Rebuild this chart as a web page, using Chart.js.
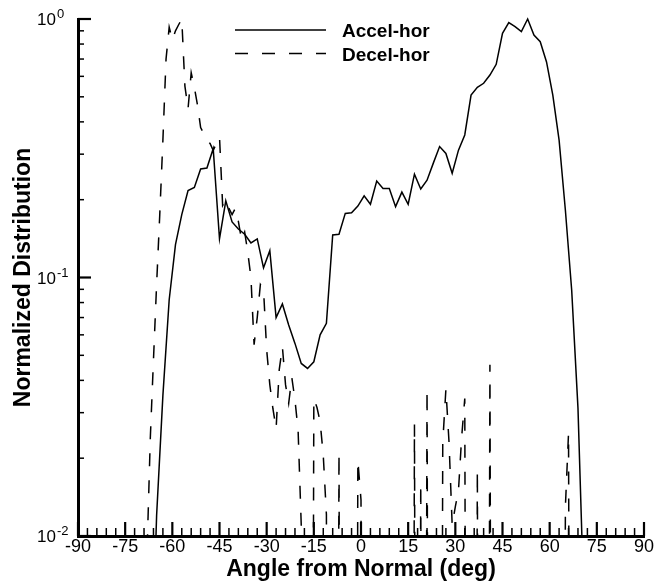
<!DOCTYPE html>
<html>
<head>
<meta charset="utf-8">
<title>Normalized angular distribution</title>
<script src="https://cdn.jsdelivr.net/npm/chart.js"></script>
<style>
  html, body { margin: 0; padding: 0; background: #fff; }
  canvas { display: block; }
</style>
</head>
<body>
<canvas id="angleChart" width="658" height="587"></canvas>
<script>
// series names, shown in the key
const seriesNames = ['Accel-hor', 'Decel-hor'];

// Accel-hor: 2 deg bins, first bin centre at -67 deg
const accelStart = -67;
const accelStep = 2;
const accelValues = [
  0.002, 0.012, 0.035, 0.082, 0.134, 0.175, 0.217, 0.223, 0.263, 0.265,
  0.315, 0.141, 0.198, 0.164, 0.154, 0.147, 0.136, 0.141, 0.109, 0.127,
  0.070, 0.079, 0.0655, 0.0556, 0.0465, 0.0445, 0.0472, 0.060, 0.0665, 0.146,
  0.147, 0.177, 0.178, 0.189, 0.207, 0.192, 0.236, 0.221, 0.221, 0.188,
  0.214, 0.192, 0.251, 0.220, 0.238, 0.277, 0.321, 0.302, 0.253, 0.311,
  0.356, 0.508, 0.544, 0.564, 0.607, 0.668, 0.880, 0.968, 0.934, 0.893,
  1.0, 0.867, 0.817, 0.682, 0.508, 0.340, 0.182, 0.0895, 0.0313, 0.005
];

// Decel-hor: 1 deg bins from -70 deg, 0 = empty bin
const decelStart = -70;
const decelStep = 1;
const decelValues = [
  0, 0, 0.009, 0.024, 0.048, 0.094, 0.175, 0.34, 0.70, 0.93,
  0.83, 0.90, 0.95, 1.0, 0.55, 0.45, 0.62, 0.545, 0.465, 0.38,
  0.36, 0.34, 0.33, 0.31, 0.33, 0.35, 0.19, 0.20, 0.185, 0.175,
  0.185, 0.165, 0.14, 0.15, 0.125, 0.10, 0.055, 0.07, 0.094, 0.09,
  0.0525, 0.0385, 0.031, 0.026, 0.044, 0.054, 0.0385, 0.0326, 0.041, 0.0336,
  0.0256, 0.011, 0, 0, 0, 0.034, 0.0314, 0.0277, 0.0205, 0.0121,
  0, 0, 0, 0.021, 0, 0, 0, 0, 0, 0.0196,
  0.0138, 0, 0, 0, 0, 0, 0, 0, 0, 0,
  0, 0, 0, 0, 0, 0, 0, 0.027, 0, 0.016,
  0, 0.037, 0, 0, 0, 0, 0.023, 0.037, 0.023, 0.011,
  0.013, 0.015, 0.024, 0.034, 0, 0, 0, 0.018, 0, 0,
  0, 0.046, 0, 0, 0, 0, 0, 0, 0, 0,
  0, 0, 0, 0, 0, 0, 0, 0, 0, 0,
  0, 0, 0, 0, 0, 0.013, 0.025, 0, 0, 0,
  0
];

// axis ticks
const xRange = [-90, 90];
const xTickStep = 15;
const xMinorStep = 3;
const yDecades = [0.01, 0.1, 1];
const yExponents = ['-2', '-1', '0'];

const FONT = '"Liberation Sans", Arial, Helvetica, sans-serif';

// empty bins have no log value; send them far below the axis so the trace drops off the bottom
const EMPTY_BIN = 1e-6;

function toPoints(start, step, values) {
  return values.map((v, i) => ({ x: start + i * step, y: v > 0 ? v : EMPTY_BIN }));
}

// inward tick marks on both axes
const axisTicks = {
  id: 'axisTicks',
  afterDatasetsDraw(chart) {
    const { ctx, chartArea: area, scales: { x, y } } = chart;
    ctx.save();
    ctx.strokeStyle = '#000';
    for (let v = xRange[0]; v <= xRange[1]; v += xMinorStep) {
      const major = v % xTickStep === 0;
      const px = x.getPixelForValue(v);
      ctx.lineWidth = major ? 2.2 : 1.5;
      ctx.beginPath();
      ctx.moveTo(px, area.bottom);
      ctx.lineTo(px, area.bottom - (major ? 14 : 8));
      ctx.stroke();
    }
    yDecades.forEach((d, i) => {
      const py = y.getPixelForValue(d);
      ctx.lineWidth = 2.2;
      ctx.beginPath();
      ctx.moveTo(area.left, py);
      ctx.lineTo(area.left + 13, py);
      ctx.stroke();
      if (i === yDecades.length - 1) return;
      ctx.lineWidth = 1.5;
      for (let m = 2; m <= 9; m++) {
        const pm = y.getPixelForValue(d * m);
        ctx.beginPath();
        ctx.moveTo(area.left, pm);
        ctx.lineTo(area.left + 6, pm);
        ctx.stroke();
      }
    });
    ctx.restore();
  }
};

// 10^n labels with raised exponents
const decadeLabels = {
  id: 'decadeLabels',
  afterDraw(chart) {
    const { ctx, scales: { y } } = chart;
    ctx.save();
    ctx.fillStyle = '#000';
    ctx.textAlign = 'left';
    ctx.textBaseline = 'alphabetic';
    yDecades.forEach((d, i) => {
      const py = y.getPixelForValue(d);
      ctx.font = '17px ' + FONT;
      ctx.fillText('10', 37, py + 6);
      const w = ctx.measureText('10').width;
      ctx.font = '13px ' + FONT;
      ctx.fillText(yExponents[i], 37 + w + 1, py - 1);
    });
    ctx.restore();
  }
};

// line key in the upper middle of the plot
const seriesKey = {
  id: 'seriesKey',
  afterDraw(chart) {
    const { ctx } = chart;
    ctx.save();
    chart.data.datasets.forEach((ds, i) => {
      const ly = 30 + i * 23.5;
      ctx.strokeStyle = ds.borderColor;
      ctx.lineWidth = ds.borderWidth;
      ctx.setLineDash(ds.borderDash || []);
      ctx.beginPath();
      ctx.moveTo(235, ly);
      ctx.lineTo(326, ly);
      ctx.stroke();
      ctx.setLineDash([]);
      ctx.fillStyle = '#000';
      ctx.font = 'bold 19px ' + FONT;
      ctx.textBaseline = 'alphabetic';
      ctx.fillText(ds.label, 342, ly + 7);
    });
    ctx.restore();
  }
};

const lineStyle = {
  borderColor: '#000',
  borderWidth: 1.5,
  pointRadius: 0,
  tension: 0,
  fill: false,
  clip: { left: 2, top: 4, right: 2, bottom: 0 }
};

new Chart(document.getElementById('angleChart'), {
  type: 'line',
  data: {
    datasets: [
      Object.assign({ label: seriesNames[0], data: toPoints(accelStart, accelStep, accelValues) }, lineStyle),
      Object.assign({ label: seriesNames[1], data: toPoints(decelStart, decelStep, decelValues), borderDash: [13, 14] }, lineStyle)
    ]
  },
  options: {
    responsive: false,
    animation: false,
    layout: { padding: { left: 0, right: 14, top: 19, bottom: 0 } },
    plugins: {
      legend: { display: false },
      tooltip: { enabled: false }
    },
    scales: {
      x: {
        type: 'linear',
        min: xRange[0],
        max: xRange[1],
        grid: { display: false, drawTicks: false },
        border: { display: true, color: '#000', width: 3 },
        ticks: {
          stepSize: xTickStep,
          color: '#000',
          padding: 0,
          maxRotation: 0,
          autoSkip: false,
          font: { family: FONT, size: 18 }
        },
        title: {
          display: true,
          text: 'Angle from Normal (deg)',
          color: '#000',
          font: { family: FONT, size: 23, weight: 'bold' },
          padding: { top: 0, bottom: 4 }
        },
        afterFit(scale) { scale.height = 51; }
      },
      y: {
        type: 'logarithmic',
        min: yDecades[0],
        max: yDecades[yDecades.length - 1],
        grid: { display: false, drawTicks: false },
        border: { display: true, color: '#000', width: 3 },
        ticks: { display: false },
        title: {
          display: true,
          text: 'Normalized Distribution',
          color: '#000',
          font: { family: FONT, size: 23, weight: 'bold' },
          padding: { top: 10, bottom: 0 }
        },
        afterFit(scale) { scale.width = 78; }
      }
    }
  },
  plugins: [axisTicks, decadeLabels, seriesKey]
});
</script>
</body>
</html>
